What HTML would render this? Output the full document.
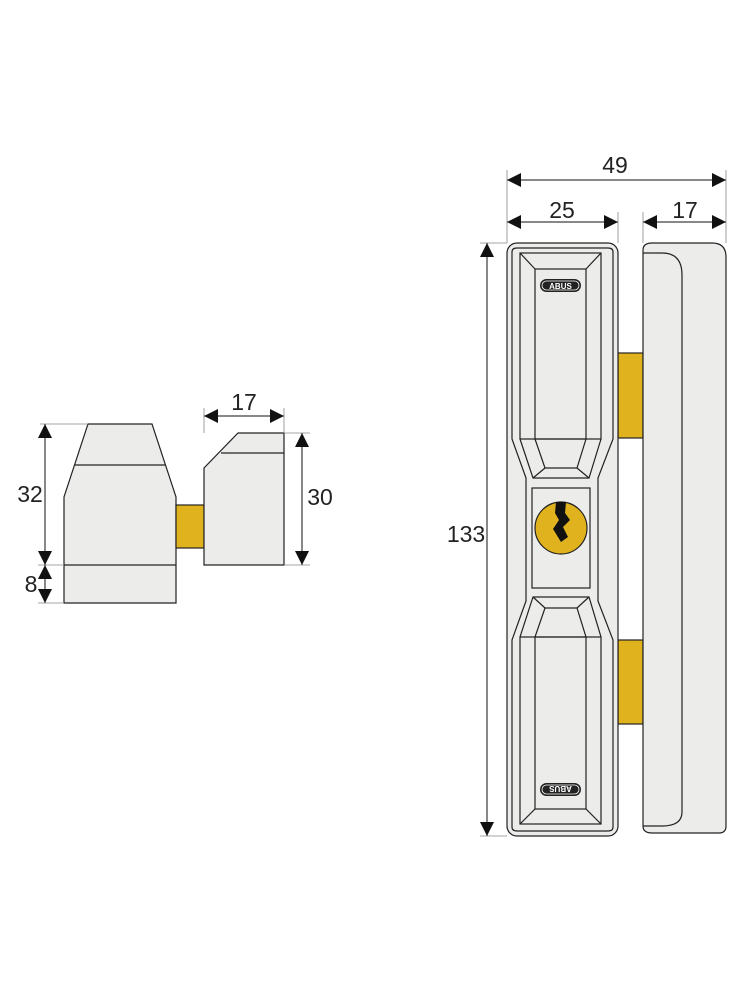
<!DOCTYPE html>
<html><head><meta charset="utf-8"><style>html,body{margin:0;padding:0;background:#fff}svg{display:block}</style></head>
<body>
<svg width="750" height="1000" viewBox="0 0 750 1000" xmlns="http://www.w3.org/2000/svg" font-family="Liberation Sans, sans-serif">
<defs>
<marker id="a" viewBox="0 0 14 14" refX="14" refY="7" markerWidth="14" markerHeight="14" markerUnits="userSpaceOnUse" orient="auto-start-reverse"><path d="M0,0 L14,7 L0,14 Z" fill="#111"/></marker>
</defs>
<g stroke="#222" stroke-width="1.2" fill="#ececeb">
<path d="M88,424 L152,424 L176,497 L176,603 L64,603 L64,497 Z"/>
<line x1="75" y1="465" x2="165" y2="465"/>
<line x1="64" y1="565" x2="176" y2="565"/>
<rect x="176" y="505" width="28" height="43" fill="#e0b21e"/>
<path d="M238,433 L284,433 L284,565 L204,565 L204,468 Z"/>
<line x1="221" y1="453" x2="284" y2="453"/>
<rect x="618" y="353" width="25" height="85" fill="#e0b21e"/>
<rect x="618" y="640" width="25" height="84" fill="#e0b21e"/>
<path d="M643,250 Q643,243 652,243 L712,243 Q726,243 726,257 L726,826 Q726,833 719,833 L652,833 Q643,833 643,826 Z"/>
<path d="M643,253 L662,253 Q682,253 682,275 L682,812 Q682,826 662,826 L643,826" fill="none"/>
<rect x="507" y="243" width="111" height="593" rx="10"/>
<path d="M512,252 Q512,248 517,248 L608,248 Q613,248 613,252 L613,439 L598,478 L598,601 L613,640 L613,827 Q613,831 608,831 L517,831 Q512,831 512,827 L512,640 L526,601 L526,478 L512,439 Z"/>
<rect x="520" y="253" width="81" height="186"/>
<rect x="535" y="269" width="51" height="170" fill="none"/>
<line x1="520" y1="253" x2="535" y2="269"/><line x1="601" y1="253" x2="586" y2="269"/>
<path d="M520,439 L533,478 L589,478 L601,439" fill="none"/>
<path d="M535,439 L545,468 L577,468 L586,439" fill="none"/>
<line x1="533" y1="478" x2="545" y2="468"/><line x1="589" y1="478" x2="577" y2="468"/>
<rect x="520" y="637" width="81" height="187"/>
<rect x="535" y="637" width="51" height="172" fill="none"/>
<line x1="520" y1="824" x2="535" y2="809"/><line x1="601" y1="824" x2="586" y2="809"/>
<path d="M520,637 L533,597 L589,597 L601,637" fill="none"/>
<path d="M535,637 L545,608 L577,608 L586,637" fill="none"/>
<line x1="533" y1="597" x2="545" y2="608"/><line x1="589" y1="597" x2="577" y2="608"/>
<rect x="532" y="488" width="58" height="100"/>
<circle cx="561" cy="528" r="26" fill="#e0b21e"/>
</g>
<path d="M556,502 L566,502 L565,513 L570,520 L563,527 L568,537 L561,542 L553,529 L559,520 L555,513 Z" fill="#111"/>
<g>
<rect x="540" y="279" width="41" height="13" rx="6.5" fill="#222"/>
<rect x="542" y="281" width="37" height="9" rx="4.5" fill="none" stroke="#fff" stroke-width="0.8"/>
<text x="560.5" y="289" font-size="8" font-weight="bold" fill="#fff" text-anchor="middle">ABUS</text>
<g transform="rotate(180 560.5 789.5)">
<rect x="540" y="783" width="41" height="13" rx="6.5" fill="#222"/>
<rect x="542" y="785" width="37" height="9" rx="4.5" fill="none" stroke="#fff" stroke-width="0.8"/>
<text x="560.5" y="793" font-size="8" font-weight="bold" fill="#fff" text-anchor="middle">ABUS</text>
</g>
</g>
<g stroke="#888" stroke-width="0.8" fill="none">
<line x1="40" y1="424" x2="88" y2="424"/><line x1="38" y1="565" x2="64" y2="565"/><line x1="38" y1="603" x2="64" y2="603"/>
<line x1="204" y1="408" x2="204" y2="433"/><line x1="284" y1="408" x2="284" y2="433"/>
<line x1="284" y1="433" x2="310" y2="433"/><line x1="284" y1="565" x2="310" y2="565"/>
<line x1="507" y1="170" x2="507" y2="243"/><line x1="618" y1="212" x2="618" y2="243"/>
<line x1="643" y1="212" x2="643" y2="243"/><line x1="726" y1="170" x2="726" y2="243"/>
<line x1="480" y1="243" x2="507" y2="243"/><line x1="480" y1="836" x2="507" y2="836"/>
</g>
<g stroke="#111" stroke-width="1" fill="none">
<line x1="45" y1="424" x2="45" y2="565" marker-start="url(#a)" marker-end="url(#a)"/>
<line x1="45" y1="584" x2="45" y2="565" marker-end="url(#a)"/>
<line x1="45" y1="584" x2="45" y2="603" marker-end="url(#a)"/>
<line x1="204" y1="416" x2="284" y2="416" marker-start="url(#a)" marker-end="url(#a)"/>
<line x1="302" y1="433" x2="302" y2="565" marker-start="url(#a)" marker-end="url(#a)"/>
<line x1="507" y1="180" x2="726" y2="180" marker-start="url(#a)" marker-end="url(#a)"/>
<line x1="507" y1="222" x2="618" y2="222" marker-start="url(#a)" marker-end="url(#a)"/>
<line x1="643" y1="222" x2="726" y2="222" marker-start="url(#a)" marker-end="url(#a)"/>
<line x1="487" y1="243" x2="487" y2="836" marker-start="url(#a)" marker-end="url(#a)"/>
</g>
<g font-size="23" fill="#222" text-anchor="middle">
<text x="30" y="502">32</text>
<text x="31" y="592">8</text>
<text x="244" y="410">17</text>
<text x="320" y="505">30</text>
<text x="615" y="173">49</text>
<text x="562" y="218">25</text>
<text x="685" y="218">17</text>
<text x="466" y="542">133</text>
</g>
</svg>
</body></html>
